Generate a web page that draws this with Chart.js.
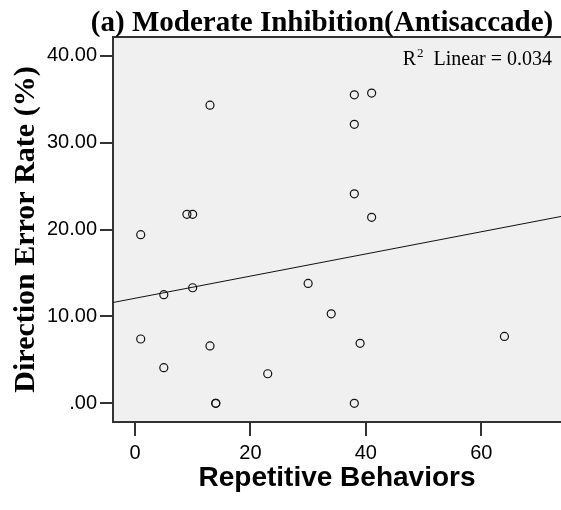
<!DOCTYPE html>
<html>
<head>
<meta charset="utf-8">
<script src="https://cdn.jsdelivr.net/npm/chart.js@4"></script>
<style>
  body { margin: 0; background: #fff; }
  #grafica { display: block; }
</style>
</head>
<body>
<canvas id="grafica" width="561" height="510"></canvas>
<script>
// puntos (conducta repetitiva, % error de direccion)
const repetitivas = [13, 9, 10, 1, 38, 41, 38, 38, 41, 5, 10, 30, 34, 1, 13, 5, 23, 14, 14, 39, 64, 38];
const errores = [34.3, 21.75, 21.75, 19.4, 35.5, 35.7, 32.1, 24.1, 21.4, 12.5, 13.3, 13.8, 10.3, 7.4, 6.6, 4.1, 3.4, 0, 0, 6.9, 7.7, 0];

// recta de ajuste lineal (extremos leidos)
const ajusteX = [-3.8, 73.8];
const ajusteY = [11.6, 21.5];
const r2 = '0.034';

const ticksX = [0, 20, 40, 60];
const ticksY = [0, 10, 20, 30, 40];
const etiquetasY = ['.00', '10.00', '20.00', '30.00', '40.00'];

const titulo = '(a) Moderate Inhibition(Antisaccade)';

const fondoPlot = {
    id: 'fondoPlot',
    beforeDraw(chart) {
        const { ctx, chartArea: a } = chart;
        ctx.save();
        ctx.fillStyle = '#f0f0f0';
        ctx.fillRect(a.left, a.top, a.right - a.left, a.bottom - a.top);
        ctx.strokeStyle = '#333';
        ctx.lineWidth = 2;
        ctx.beginPath();
        ctx.moveTo(a.left, a.top);
        ctx.lineTo(a.right, a.top);
        ctx.stroke();
        ctx.restore();
    },
    afterDraw(chart) {
        const { ctx, chartArea: a } = chart;
        ctx.save();
        ctx.fillStyle = '#000';
        ctx.textBaseline = 'alphabetic';
        ctx.font = 'bold 29px "Liberation Serif"';
        ctx.textAlign = 'center';
        ctx.fillText(titulo, 322, 31);

        // R² Linear = ...
        ctx.textAlign = 'left';
        const resto = '  Linear = ' + r2;
        ctx.font = '20px "Liberation Serif"';
        const wR = ctx.measureText('R').width;
        const wResto = ctx.measureText(resto).width;
        ctx.font = '13px "Liberation Serif"';
        const w2 = ctx.measureText('2').width;
        let x = a.right - 9 - (wR + w2 + 1 + wResto);
        ctx.font = '20px "Liberation Serif"';
        ctx.fillText('R', x, 65);
        ctx.font = '13px "Liberation Serif"';
        ctx.fillText('2', x + wR + 1, 57);
        ctx.font = '20px "Liberation Serif"';
        ctx.fillText(resto, x + wR + w2 + 1, 65);
        ctx.restore();
    }
};

const ctx = document.getElementById('grafica').getContext('2d');
new Chart(ctx, {
    type: 'scatter',
    data: {
        datasets: [{
            data: repetitivas.map((v, i) => ({ x: v, y: errores[i] })),
            pointRadius: 4,
            pointBorderWidth: 1.2,
            pointBorderColor: '#111',
            pointBackgroundColor: 'rgba(0,0,0,0)',
            showLine: false
        }, {
            type: 'line',
            data: ajusteX.map((v, i) => ({ x: v, y: ajusteY[i] })),
            borderColor: '#111',
            borderWidth: 1,
            pointRadius: 0,
            fill: false
        }]
    },
    options: {
        responsive: false,
        animation: false,
        layout: { autoPadding: false, padding: { top: 37, left: 0, right: 0, bottom: 0 } },
        plugins: { legend: { display: false }, tooltip: { enabled: false } },
        scales: {
            x: {
                type: 'linear',
                min: -3.8,
                max: 73.8,
                afterBuildTicks: s => { s.ticks = ticksX.map(v => ({ value: v })); },
                afterFit: s => { s.height = 88; s.paddingLeft = 0; s.paddingRight = 0; },
                ticks: {
                    padding: 5,
                    color: '#000',
                    maxRotation: 0,
                    font: { family: '"Liberation Sans"', size: 20 }
                },
                grid: { drawOnChartArea: false, drawTicks: true, tickLength: 14, color: '#333', lineWidth: 2 },
                border: { display: true, color: '#333', width: 2 },
                title: {
                    display: true,
                    text: 'Repetitive Behaviors',
                    color: '#000',
                    padding: { top: 15, bottom: 15 },
                    font: { family: '"Liberation Sans"', size: 28, weight: 'bold' }
                }
            },
            y: {
                min: -2.15,
                max: 42.15,
                afterBuildTicks: s => { s.ticks = ticksY.map(v => ({ value: v })); },
                afterFit: s => { s.width = 113; },
                ticks: {
                    padding: 3,
                    color: '#000',
                    font: { family: '"Liberation Sans"', size: 20 },
                    callback: (v) => etiquetasY[ticksY.indexOf(v)]
                },
                grid: { drawOnChartArea: false, drawTicks: true, tickLength: 13, color: '#333', lineWidth: 2 },
                border: { display: true, color: '#333', width: 2 },
                title: {
                    display: true,
                    text: 'Direction Error Rate (%)',
                    color: '#000',
                    padding: { top: 8, bottom: 8 },
                    font: { family: '"Liberation Serif"', size: 30, weight: 'bold' }
                }
            }
        }
    },
    plugins: [fondoPlot]
});
</script>
</body>
</html>
